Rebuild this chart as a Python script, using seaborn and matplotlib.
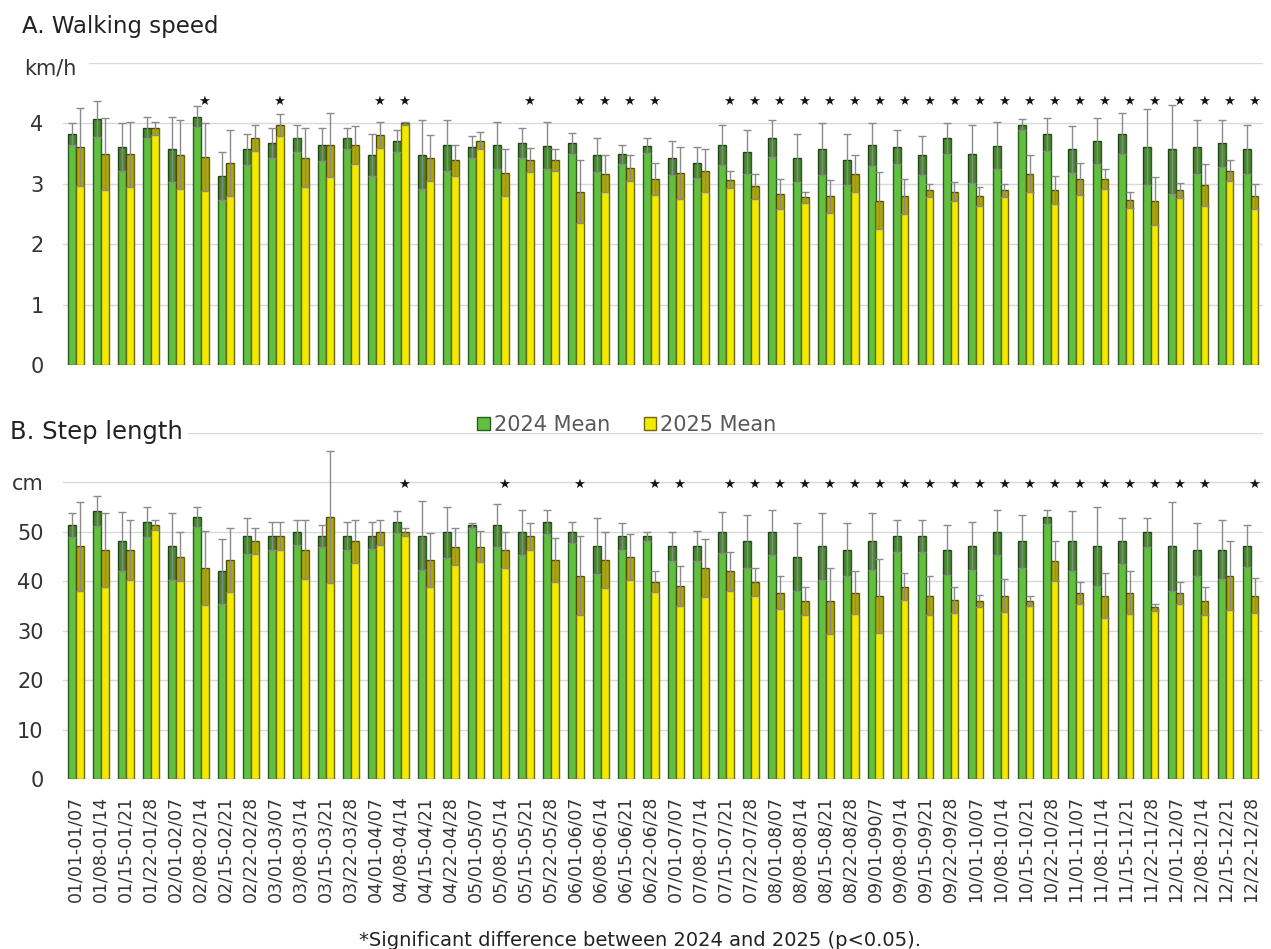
import numpy as np
import pandas as pd
import matplotlib
matplotlib.use("Agg")
import matplotlib.pyplot as plt
from matplotlib.patches import Patch
import seaborn as sns

# Weekly periods (start-end)
weeks = [
    "01/01-01/07", "01/08-01/14", "01/15-01/21", "01/22-01/28",
    "02/01-02/07", "02/08-02/14", "02/15-02/21", "02/22-02/28",
    "03/01-03/07", "03/08-03/14", "03/15-03/21", "03/22-03/28",
    "04/01-04/07", "04/08-04/14", "04/15-04/21", "04/22-04/28",
    "05/01-05/07", "05/08-05/14", "05/15-05/21", "05/22-05/28",
    "06/01-06/07", "06/08-06/14", "06/15-06/21", "06/22-06/28",
    "07/01-07/07", "07/08-07/14", "07/15-07/21", "07/22-07/28",
    "08/01-08/07", "08/08-08/14", "08/15-08/21", "08/22-08/28",
    "09/01-090/7", "09/08-09/14", "09/15-09/21", "09/22-09/28",
    "10/01-10/07", "10/08-10/14", "10/15-10/21", "10/22-10/28",
    "11/01-11/07", "11/08-11/14", "11/15-11/21", "11/22-11/28",
    "12/01-12/07", "12/08-12/14", "12/15-12/21", "12/22-12/28",
]

# Walking speed (km/h): weekly means and SDs
speed_2024 = [3.82, 4.07, 3.61, 3.93, 3.57, 4.11, 3.13, 3.57, 3.67, 3.75, 3.65, 3.75,
              3.48, 3.71, 3.48, 3.64, 3.61, 3.64, 3.67, 3.63, 3.67, 3.47, 3.49, 3.63,
              3.43, 3.35, 3.64, 3.53, 3.75, 3.43, 3.57, 3.40, 3.65, 3.61, 3.47, 3.75,
              3.49, 3.63, 3.98, 3.82, 3.57, 3.71, 3.83, 3.61, 3.57, 3.61, 3.67, 3.57]
speed_2024_sd = [0.18, 0.30, 0.39, 0.18, 0.54, 0.17, 0.39, 0.26, 0.25, 0.22, 0.27, 0.17,
                 0.35, 0.18, 0.57, 0.42, 0.18, 0.39, 0.25, 0.39, 0.17, 0.28, 0.16, 0.12,
                 0.28, 0.26, 0.33, 0.36, 0.31, 0.40, 0.43, 0.42, 0.35, 0.28, 0.32, 0.25,
                 0.48, 0.39, 0.09, 0.27, 0.39, 0.38, 0.34, 0.63, 0.74, 0.44, 0.39, 0.41]
speed_2025 = [3.61, 3.49, 3.49, 3.92, 3.48, 3.44, 3.34, 3.76, 3.97, 3.43, 3.65, 3.64,
              3.81, 4.00, 3.43, 3.39, 3.71, 3.18, 3.40, 3.39, 2.87, 3.17, 3.26, 3.08,
              3.18, 3.22, 3.07, 2.96, 2.83, 2.78, 2.79, 3.17, 2.72, 2.79, 2.89, 2.87,
              2.79, 2.89, 3.17, 2.90, 3.08, 3.08, 2.73, 2.71, 2.89, 2.98, 3.22, 2.79]
speed_2025_sd = [0.64, 0.60, 0.54, 0.11, 0.57, 0.56, 0.55, 0.21, 0.18, 0.49, 0.53, 0.32,
                 0.21, 0.03, 0.38, 0.26, 0.14, 0.39, 0.20, 0.18, 0.52, 0.30, 0.21, 0.27,
                 0.43, 0.36, 0.14, 0.21, 0.25, 0.09, 0.27, 0.30, 0.47, 0.29, 0.11, 0.16,
                 0.15, 0.11, 0.30, 0.23, 0.27, 0.17, 0.13, 0.40, 0.13, 0.35, 0.17, 0.21]

# Step length (cm): weekly means and SDs
step_2024 = [51.4, 54.2, 48.1, 52.0, 47.1, 53.0, 42.0, 49.2, 49.2, 49.9, 49.2, 49.2,
             49.2, 52.0, 49.2, 49.9, 51.3, 51.3, 49.9, 52.0, 49.9, 47.1, 49.1, 49.1,
             47.1, 47.1, 49.9, 48.1, 49.9, 44.9, 47.1, 46.4, 48.1, 49.2, 49.2, 46.3,
             47.1, 49.9, 48.1, 53.0, 48.1, 47.1, 48.1, 49.9, 47.1, 46.4, 46.4, 47.1]
step_2024_sd = [2.5, 3.0, 6.0, 3.0, 6.8, 2.0, 6.6, 3.6, 2.8, 2.5, 2.2, 2.8,
                2.7, 2.2, 7.0, 5.2, 0.5, 4.4, 4.6, 2.5, 2.1, 5.7, 2.7, 0.9,
                2.9, 3.0, 4.1, 5.4, 4.6, 6.9, 6.8, 5.4, 5.8, 3.2, 3.2, 5.0,
                4.9, 4.6, 5.4, 1.5, 6.1, 8.0, 4.7, 2.9, 9.0, 5.4, 6.0, 4.2]
step_2025 = [47.1, 46.3, 46.3, 51.4, 45.0, 42.7, 44.3, 48.1, 49.2, 46.4, 53.0, 48.1,
             49.9, 49.9, 44.3, 47.0, 47.0, 46.3, 49.1, 44.3, 41.1, 44.3, 44.9, 39.9,
             39.0, 42.7, 42.0, 39.8, 37.7, 36.0, 36.0, 37.7, 37.1, 38.9, 37.1, 36.2,
             36.0, 37.1, 36.0, 44.1, 37.7, 37.1, 37.7, 34.7, 37.7, 36.0, 41.1, 37.1]
step_2025_sd = [9.0, 7.5, 6.0, 1.0, 5.0, 7.4, 6.5, 2.6, 2.8, 6.0, 13.3, 4.3,
                2.5, 0.8, 5.4, 3.7, 3.1, 3.7, 2.7, 4.4, 8.0, 5.7, 4.7, 2.1,
                4.1, 5.8, 3.9, 2.8, 3.3, 2.8, 6.6, 4.3, 7.5, 2.7, 3.9, 2.7,
                1.2, 3.3, 1.1, 4.0, 2.2, 4.5, 4.3, 0.8, 2.2, 2.8, 7.0, 3.5]

# Weeks with a significant 2024 vs 2025 difference (index into weeks)
sig_speed = [5, 8, 12, 13, 18, 20, 21, 22, 23, 26, 27, 28, 29, 30, 31, 32, 33, 34, 35,
             36, 37, 38, 39, 40, 41, 42, 43, 44, 45, 46, 47]
sig_step = [13, 17, 20, 23, 24, 26, 27, 28, 29, 30, 31, 32, 33, 34, 35, 36, 37, 38, 39,
            40, 41, 42, 43, 44, 45, 47]

years = ["2024", "2025"]
legend_labels = ["2024 Mean", "2025 Mean"]
fill_colors = ["#62c040", "#f2ea00"]
edge_colors = ["#2e5c1f", "#6f6810"]

sns.set_style("white")
plt.rcParams["font.family"] = ["DejaVu Sans"]

W, H = 1271, 949
fig = plt.figure(figsize=(W / 100, H / 100), dpi=100)
ax_a = fig.add_axes([63 / W, 1 - 365 / H, 1200 / W, 302 / H])
ax_b = fig.add_axes([63 / W, 1 - 779 / H, 1200 / W, 346 / H])


def long_frame(v24, v25):
    return pd.DataFrame({
        "week": weeks * 2,
        "year": ["2024"] * len(weeks) + ["2025"] * len(weeks),
        "value": list(v24) + list(v25),
    })


def draw_panel(ax, v24, s24, v25, s25, sig, star_y):
    df = long_frame(v24, v25)
    sns.barplot(data=df, x="week", y="value", hue="year", order=weeks,
                hue_order=years, palette=fill_colors, width=0.64, saturation=1,
                errorbar=None, legend=False, ax=ax, zorder=2)
    centers_2025 = None
    for cont, means, sds, ec in zip(ax.containers, (v24, v25), (s24, s25), edge_colors):
        xs, ws = [], []
        for bar in cont:
            bar.set_edgecolor(ec)
            bar.set_linewidth(1.0)
            xs.append(bar.get_x() + bar.get_width() / 2)
            ws.append(bar.get_width())
        xs = np.array(xs)
        means = np.array(means)
        sds = np.array(sds)
        # darker shading over the lower SD range inside each bar
        ax.bar(xs, sds, bottom=means - sds, width=ws, color="black", alpha=0.28,
               linewidth=0, zorder=2.5)
        ax.errorbar(xs, means, yerr=sds, fmt="none", ecolor="#8a8a8a",
                    elinewidth=1.0, capsize=2.8, capthick=1.0, zorder=3)
        centers_2025 = xs
    for i in sig:
        ax.text(centers_2025[i], star_y, "\u2605", ha="center", va="center",
                fontsize=9.5, color="#151515", zorder=4)
    ax.set_xlabel("")
    ax.set_ylabel("")
    ax.set_xlim(-0.5, len(weeks) - 0.5)
    ax.yaxis.grid(True, color="#d9d9d9", linewidth=1.0)
    ax.xaxis.grid(False)
    ax.set_axisbelow(True)
    sns.despine(ax=ax, left=True, bottom=True)
    ax.tick_params(axis="both", length=0)
    ax.tick_params(axis="y", labelsize=15, pad=14, labelcolor="#333333")


# A. Walking speed
draw_panel(ax_a, speed_2024, speed_2024_sd, speed_2025, speed_2025_sd, sig_speed, 4.37)
ax_a.set_ylim(0, 5)
ax_a.set_yticks(range(6))
ax_a.set_yticklabels(["0", "1", "2", "3", "4", ""])
ax_a.set_xticklabels([])

# B. Step length
draw_panel(ax_b, step_2024, step_2024_sd, step_2025, step_2025_sd, sig_step, 59.6)
ax_b.set_ylim(0, 70)
ax_b.set_yticks(range(0, 80, 10))
ax_b.set_yticklabels(["0", "10", "20", "30", "40", "50", "cm", ""])
ax_b.tick_params(axis="x", labelrotation=90, labelsize=12.5, pad=12,
                 labelcolor="#333333")

# Panel titles and unit label
fig.text(22 / W, 1 - 26 / H, "A. Walking speed", fontsize=16.5, color="#222222",
         ha="left", va="center")
fig.text(24 / W, 1 - 68 / H, "km/h", fontsize=15, color="#333333", ha="left",
         va="center", bbox=dict(boxstyle="square,pad=0.6", fc="white", ec="none"))
fig.text(10 / W, 1 - 432 / H, "B. Step length", fontsize=17.5, color="#222222",
         ha="left", va="center",
         bbox=dict(boxstyle="square,pad=0.2", fc="white", ec="none"))

# Legend
handles = [Patch(facecolor=fc, edgecolor=ec, linewidth=1.0)
           for fc, ec in zip(fill_colors, edge_colors)]
fig.legend(handles, legend_labels, loc="center", bbox_to_anchor=(627 / W, 1 - 425 / H),
           ncol=2, frameon=False, fontsize=15, handlelength=0.6, handleheight=0.6,
           handletextpad=0.2, columnspacing=1.6, labelcolor="#595959")

# Footnote
fig.text(640 / W, 1 - 940 / H, "*Significant difference between 2024 and 2025 (p<0.05).",
         fontsize=14, color="#222222", ha="center", va="center")

fig.savefig("out.png", dpi=100)
